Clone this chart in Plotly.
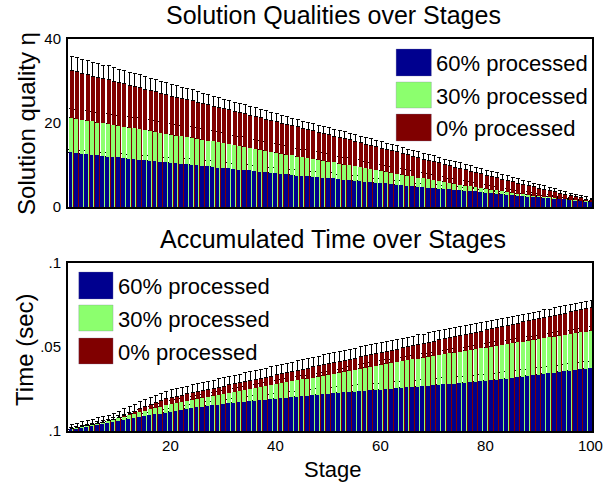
import plotly.graph_objects as go
from plotly.subplots import make_subplots

stages = list(range(1, 101))
series_names = ["60% processed", "30% processed", "0% processed"]
colors = ["#00008F", "#8CFF6E", "#800000"]

# ---- Solution quality (top) ----
q60 = [13.0, 12.8, 12.7, 12.6, 12.4, 12.3, 12.1, 12.0, 11.9, 11.8,
       11.6, 11.5, 11.4, 11.3, 11.1, 11.0, 10.9, 10.7, 10.6, 10.5,
       10.4, 10.3, 10.2, 10.1, 10.0, 9.8, 9.7, 9.6, 9.4, 9.3,
       9.2, 9.0, 8.9, 8.8, 8.7, 8.5, 8.4, 8.3, 8.1, 8.0,
       7.9, 7.8, 7.7, 7.5, 7.4, 7.3, 7.2, 7.1, 7.0, 6.9,
       6.8, 6.6, 6.5, 6.4, 6.3, 6.2, 6.0, 5.9, 5.8, 5.7,
       5.6, 5.5, 5.3, 5.2, 5.1, 5.0, 4.8, 4.7, 4.6, 4.5,
       4.4, 4.3, 4.2, 4.1, 4.0, 3.9, 3.8, 3.7, 3.5, 3.4,
       3.3, 3.2, 3.1, 2.9, 2.8, 2.7, 2.6, 2.5, 2.4, 2.3,
       2.2, 2.1, 2.0, 1.9, 1.8, 1.7, 1.5, 1.4, 1.3, 1.2]
q30 = [21.2, 21.0, 20.8, 20.5, 20.4, 20.1, 19.9, 19.8, 19.5, 19.3,
       19.1, 18.9, 18.7, 18.5, 18.3, 18.1, 17.9, 17.6, 17.5, 17.2,
       17.0, 16.8, 16.6, 16.5, 16.3, 16.0, 15.8, 15.6, 15.4, 15.2,
       14.9, 14.7, 14.5, 14.3, 14.1, 13.8, 13.6, 13.4, 13.2, 12.9,
       12.7, 12.5, 12.3, 12.0, 11.8, 11.6, 11.4, 11.2, 11.0, 10.8,
       10.6, 10.3, 10.1, 9.9, 9.7, 9.5, 9.2, 9.0, 8.8, 8.6,
       8.4, 8.1, 7.9, 7.7, 7.5, 7.3, 7.0, 6.8, 6.6, 6.4,
       6.2, 6.0, 5.7, 5.5, 5.3, 5.1, 4.9, 4.7, 4.5, 4.3,
       4.1, 4.0, 3.8, 3.6, 3.4, 3.2, 3.1, 2.9, 2.7, 2.6,
       2.4, 2.3, 2.1, 2.0, 1.9, 1.7, 1.6, 1.5, 1.4, 1.3]
q0 = [32.5, 32.3, 31.8, 31.5, 31.1, 30.9, 30.5, 30.3, 29.9, 29.6,
      29.3, 29.0, 28.6, 28.4, 28.0, 27.7, 27.4, 27.0, 26.8, 26.4,
      26.1, 25.8, 25.5, 25.3, 25.0, 24.6, 24.4, 24.0, 23.7, 23.4,
      23.1, 22.8, 22.4, 22.2, 21.8, 21.5, 21.2, 20.9, 20.6, 20.3,
      20.0, 19.7, 19.3, 19.1, 18.7, 18.4, 18.1, 17.8, 17.6, 17.3,
      16.9, 16.6, 16.3, 16.0, 15.7, 15.3, 15.0, 14.7, 14.4, 14.0,
      13.7, 13.4, 13.1, 12.7, 12.4, 12.1, 11.8, 11.4, 11.1, 10.8,
      10.5, 10.1, 9.8, 9.5, 9.2, 8.9, 8.5, 8.2, 7.9, 7.6,
      7.3, 7.0, 6.6, 6.3, 6.0, 5.7, 5.4, 5.1, 4.8, 4.5,
      4.2, 3.9, 3.6, 3.3, 3.0, 2.7, 2.4, 2.2, 1.9, 1.7]
q60_err = [0.6, 0.7, 0.7, 0.8, 0.8, 0.9, 0.9, 1.0, 1.0, 1.1,
           1.1, 1.1, 1.2, 1.2, 1.2, 1.3, 1.3, 1.3, 1.3, 1.4,
           1.4, 1.4, 1.4, 1.4, 1.4, 1.4, 1.4, 1.4, 1.4, 1.4,
           1.4, 1.4, 1.4, 1.4, 1.4, 1.4, 1.4, 1.4, 1.4, 1.4,
           1.4, 1.4, 1.3, 1.4, 1.3, 1.3, 1.3, 1.3, 1.3, 1.3,
           1.3, 1.2, 1.2, 1.2, 1.2, 1.2, 1.1, 1.1, 1.1, 1.1,
           1.1, 1.0, 1.0, 1.0, 1.0, 1.0, 0.9, 0.9, 0.9, 0.9,
           0.9, 0.8, 0.8, 0.8, 0.8, 0.8, 0.7, 0.7, 0.7, 0.7,
           0.7, 0.6, 0.6, 0.6, 0.6, 0.6, 0.5, 0.5, 0.5, 0.5,
           0.5, 0.4, 0.4, 0.4, 0.4, 0.3, 0.3, 0.3, 0.3, 0.2]
q30_err = [2.2, 2.3, 2.3, 2.4, 2.4, 2.5, 2.5, 2.5, 2.6, 2.6,
           2.6, 2.6, 2.7, 2.7, 2.7, 2.7, 2.7, 2.7, 2.7, 2.7,
           2.7, 2.7, 2.7, 2.6, 2.6, 2.6, 2.6, 2.5, 2.5, 2.5,
           2.5, 2.4, 2.4, 2.4, 2.3, 2.3, 2.3, 2.2, 2.2, 2.2,
           2.1, 2.1, 2.1, 2.0, 2.0, 2.0, 2.0, 1.9, 1.9, 1.9,
           1.9, 1.8, 1.8, 1.8, 1.7, 1.7, 1.7, 1.6, 1.6, 1.6,
           1.6, 1.5, 1.5, 1.5, 1.4, 1.4, 1.4, 1.3, 1.3, 1.3,
           1.3, 1.2, 1.2, 1.2, 1.2, 1.1, 1.1, 1.1, 1.0, 1.0,
           1.0, 0.9, 0.9, 0.9, 0.8, 0.8, 0.8, 0.7, 0.7, 0.7,
           0.6, 0.6, 0.6, 0.5, 0.5, 0.5, 0.4, 0.4, 0.4, 0.3]
q0_err = [3.4, 3.4, 3.3, 3.4, 3.3, 3.3, 3.2, 3.3, 3.2, 3.2,
          3.2, 3.1, 3.2, 3.1, 3.0, 3.0, 2.9, 3.0, 2.9, 2.8,
          2.8, 2.7, 2.7, 2.6, 2.6, 2.5, 2.5, 2.4, 2.4, 2.3,
          2.3, 2.2, 2.2, 2.1, 2.1, 2.1, 2.0, 2.0, 1.9, 1.9,
          1.9, 1.8, 1.8, 1.8, 1.7, 1.7, 1.7, 1.7, 1.6, 1.6,
          1.6, 1.6, 1.6, 1.5, 1.6, 1.5, 1.5, 1.5, 1.5, 1.5,
          1.5, 1.4, 1.5, 1.4, 1.4, 1.4, 1.4, 1.4, 1.3, 1.4,
          1.3, 1.3, 1.3, 1.3, 1.3, 1.2, 1.3, 1.2, 1.2, 1.2,
          1.2, 1.1, 1.1, 1.1, 1.1, 1.0, 1.0, 1.0, 0.9, 0.9,
          0.9, 0.8, 0.8, 0.7, 0.7, 0.6, 0.6, 0.5, 0.5, 0.4]

# ---- Accumulated time (bottom) ----
t60 = [.0006, .0011, .0016, .0022, .0028, .0034, .0040, .0046, .0053, .0060,
       .0066, .0072, .0078, .0083, .0089, .0094, .0099, .0104, .0109, .0114,
       .0120, .0125, .0131, .0136, .0141, .0145, .0149, .0153, .0156, .0160,
       .0164, .0167, .0171, .0174, .0178, .0181, .0184, .0187, .0190, .0193,
       .0196, .0199, .0202, .0205, .0208, .0211, .0214, .0217, .0220, .0223,
       .0225, .0228, .0230, .0233, .0235, .0237, .0240, .0242, .0245, .0247,
       .0249, .0252, .0254, .0257, .0259, .0262, .0264, .0267, .0269, .0272,
       .0274, .0277, .0279, .0282, .0285, .0287, .0290, .0293, .0296, .0299,
       .0302, .0305, .0309, .0312, .0316, .0320, .0324, .0328, .0332, .0336,
       .0340, .0344, .0348, .0352, .0356, .0360, .0364, .0367, .0371, .0375]
t30 = [.0009, .0015, .0021, .0027, .0034, .0041, .0049, .0057, .0066, .0075,
       .0084, .0093, .0102, .0111, .0120, .0129, .0137, .0145, .0152, .0159,
       .0166, .0172, .0179, .0185, .0191, .0197, .0203, .0209, .0214, .0220,
       .0226, .0232, .0237, .0243, .0249, .0255, .0261, .0266, .0272, .0278,
       .0284, .0289, .0295, .0301, .0307, .0312, .0318, .0324, .0330, .0335,
       .0341, .0347, .0353, .0359, .0365, .0371, .0377, .0383, .0389, .0395,
       .0401, .0406, .0411, .0416, .0421, .0426, .0431, .0437, .0442, .0447,
       .0452, .0457, .0462, .0467, .0472, .0477, .0482, .0487, .0492, .0497,
       .0502, .0507, .0512, .0517, .0522, .0527, .0532, .0537, .0542, .0547,
       .0552, .0557, .0562, .0567, .0572, .0577, .0582, .0587, .0592, .0598]
t0 = [.0012, .0018, .0025, .0031, .0038, .0045, .0052, .0060, .0070, .0081,
      .0093, .0106, .0119, .0132, .0145, .0158, .0170, .0181, .0191, .0200,
      .0207, .0214, .0221, .0228, .0235, .0241, .0248, .0254, .0261, .0267,
      .0274, .0281, .0287, .0294, .0301, .0307, .0314, .0321, .0327, .0334,
      .0341, .0347, .0354, .0361, .0367, .0374, .0381, .0387, .0394, .0401,
      .0408, .0414, .0421, .0428, .0434, .0441, .0448, .0454, .0461, .0468,
      .0475, .0481, .0488, .0495, .0501, .0508, .0515, .0521, .0528, .0535,
      .0542, .0548, .0555, .0562, .0568, .0575, .0582, .0588, .0595, .0602,
      .0609, .0615, .0622, .0629, .0635, .0642, .0649, .0655, .0662, .0669,
      .0676, .0682, .0689, .0696, .0702, .0709, .0716, .0722, .0729, .0736]
t60_err = [.0005, .0006, .0007, .0008, .0009, .0010, .0011, .0012, .0013, .0014,
           .0015, .0016, .0017, .0017, .0018, .0018, .0019, .0019, .0020, .0020,
           .0021, .0021, .0022, .0022, .0023, .0023, .0024, .0024, .0025, .0025,
           .0026, .0026, .0027, .0027, .0028, .0028, .0029, .0029, .0030, .0030,
           .0031, .0031, .0032, .0032, .0033, .0033, .0034, .0034, .0035, .0035,
           .0036, .0036, .0036, .0037, .0037, .0037, .0038, .0038, .0038, .0038,
           .0038, .0038, .0039, .0039, .0039, .0039, .0039, .0039, .0039, .0039,
           .0039, .0040, .0040, .0040, .0040, .0040, .0040, .0040, .0040, .0040,
           .0040, .0040, .0040, .0040, .0040, .0040, .0040, .0040, .0040, .0040,
           .0040, .0040, .0040, .0040, .0040, .0040, .0040, .0040, .0040, .0040]
t30_err = [.0010, .0011, .0011, .0012, .0012, .0013, .0013, .0014, .0014, .0015,
           .0015, .0016, .0016, .0017, .0017, .0018, .0018, .0019, .0019, .0020,
           .0020, .0020, .0020, .0020, .0020, .0020, .0020, .0020, .0020, .0020,
           .0020, .0020, .0020, .0020, .0021, .0021, .0021, .0021, .0021, .0021,
           .0021, .0021, .0021, .0021, .0021, .0021, .0021, .0021, .0021, .0021,
           .0022, .0022, .0022, .0022, .0022, .0022, .0022, .0022, .0022, .0022,
           .0022, .0022, .0022, .0022, .0022, .0022, .0022, .0022, .0022, .0022,
           .0022, .0022, .0022, .0022, .0022, .0022, .0022, .0022, .0022, .0022,
           .0023, .0023, .0023, .0023, .0023, .0023, .0023, .0023, .0023, .0023,
           .0023, .0023, .0023, .0023, .0023, .0023, .0023, .0023, .0023, .0023]
t0_err = [.0028, .0029, .0030, .0031, .0032, .0033, .0034, .0035, .0036, .0037,
          .0038, .0039, .0040, .0041, .0042, .0043, .0043, .0044, .0044, .0045,
          .0045, .0046, .0046, .0047, .0047, .0048, .0048, .0049, .0049, .0050,
          .0050, .0051, .0051, .0052, .0052, .0053, .0053, .0054, .0054, .0055,
          .0055, .0056, .0056, .0057, .0057, .0058, .0058, .0059, .0059, .0060,
          .0060, .0060, .0060, .0060, .0060, .0060, .0060, .0060, .0060, .0060,
          .0060, .0059, .0059, .0058, .0058, .0057, .0057, .0056, .0056, .0055,
          .0055, .0054, .0054, .0053, .0053, .0052, .0052, .0051, .0051, .0050,
          .0050, .0049, .0049, .0048, .0048, .0047, .0047, .0046, .0046, .0045,
          .0045, .0044, .0044, .0043, .0043, .0042, .0042, .0041, .0041, .0041]

x_ticks = [20, 40, 60, 80, 100]
q_ticks = [0, 20, 40]
t_ticks = [0, 0.05, 0.1]
t_ticktext = [".1", ".05", ".1"]

FONT = "Liberation Sans, Arial, Helvetica, sans-serif"

W, H = 615, 489
AX_L, AX_R, AX_T, AX_B = 68, 603, 39, 431      # plot box in pixels
L, R, T, B = AX_L, W - AX_R, AX_T, H - AX_B
PW, PH = W - L - R, H - T - B


def px(xp):
    return (xp - AX_L) / PW


def py(yp):
    return (AX_B - yp) / PH


top_dom = [py(207), 1.0]
bot_dom = [0.0, py(263)]

fig = make_subplots(rows=2, cols=1)

offsets = [-0.40, -0.27, -0.15]
widths = [0.75, 0.75, 0.75]

for row, vals, errs in [(1, [q60, q30, q0], [q60_err, q30_err, q0_err]),
                        (2, [t60, t30, t0], [t60_err, t30_err, t0_err])]:
    zeros = [0] * len(stages)
    # error bars for 60% and 30% drawn behind the taller bars
    for i in [0, 1]:
        fig.add_trace(go.Bar(
            x=stages, y=vals[i], width=widths[i], offset=offsets[i],
            marker=dict(color="rgba(0,0,0,0)", line=dict(width=0)),
            error_y=dict(type="data", symmetric=False, array=errs[i], arrayminus=zeros,
                         color="black", thickness=1, width=2),
            showlegend=False, hoverinfo="skip"), row=row, col=1)
    fig.add_trace(go.Bar(
        x=stages, y=vals[2], width=widths[2], offset=offsets[2], name=series_names[2],
        marker=dict(color=colors[2], line=dict(width=0)),
        error_y=dict(type="data", symmetric=False, array=errs[2], arrayminus=zeros,
                     color="black", thickness=1, width=2),
        showlegend=False), row=row, col=1)
    for i in [1, 0]:
        fig.add_trace(go.Bar(
            x=stages, y=vals[i], width=widths[i], offset=offsets[i], name=series_names[i],
            marker=dict(color=colors[i], line=dict(width=0)),
            showlegend=False), row=row, col=1)

axis_common = dict(showline=True, linewidth=2, linecolor="black", mirror=True,
                   showgrid=False, zeroline=False, ticks="",
                   tickfont=dict(family=FONT, size=15, color="black"))

fig.update_xaxes(range=[0.5, 100.3], tickvals=x_ticks, **axis_common)
fig.update_xaxes(showticklabels=False, row=1, col=1)
fig.update_xaxes(ticklabelstandoff=0, row=2, col=1)
fig.update_yaxes(range=[0, 40], tickvals=q_ticks, ticklabelstandoff=2, **axis_common, row=1, col=1)
fig.update_yaxes(range=[0, 0.1], tickvals=t_ticks, ticktext=t_ticktext, ticklabelstandoff=2,
                 **axis_common, row=2, col=1)

fig.update_layout(
    width=W, height=H,
    margin=dict(l=L, r=R, t=T, b=B),
    barmode="overlay", bargap=0,
    plot_bgcolor="white", paper_bgcolor="white",
    font=dict(family=FONT, color="black"),
    xaxis=dict(domain=[0, 1]), yaxis=dict(domain=top_dom),
    xaxis2=dict(domain=[0, 1]), yaxis2=dict(domain=bot_dom),
)

annos = [
    dict(text="Solution Qualities over Stages", x=px(339), y=py(15), size=25, angle=0),
    dict(text="Accumulated Time over Stages", x=px(339), y=py(239), size=25, angle=0),
    dict(text="Solution quality η", x=px(25), y=py(123), size=24, angle=-90),
    dict(text="Time (sec)", x=px(23), y=py(350), size=24, angle=-90),
    dict(text="Stage", x=px(339), y=py(469), size=22, angle=0),
]
for a in annos:
    fig.add_annotation(text=a["text"], x=a["x"], y=a["y"], xref="paper", yref="paper",
                       xanchor="center", yanchor="middle", showarrow=False,
                       textangle=a["angle"], font=dict(family=FONT, size=a["size"], color="black"))

legend_specs = [
    (403, 439, 442, [(49, 76), (82, 108), (114, 141)]),
    (79, 114, 117, [(272, 299), (305, 331), (338, 364)]),
]
for x0, x1, xt, rows in legend_specs:
    for i, (y0, y1) in enumerate(rows):
        fig.add_shape(type="rect", xref="paper", yref="paper",
                      x0=px(x0), x1=px(x1), y0=py(y1), y1=py(y0),
                      fillcolor=colors[i], line=dict(width=0.5, color="rgba(120,120,160,0.6)"))
        fig.add_annotation(text=series_names[i], x=px(xt), y=py((y0 + y1) / 2 + 1),
                           xref="paper", yref="paper", xanchor="left", yanchor="middle",
                           showarrow=False, font=dict(family=FONT, size=22, color="black"))

fig.write_html("out.html", config={"displayModeBar": False},
               post_script="document.body.style.margin='0';document.body.style.overflow='hidden';")
